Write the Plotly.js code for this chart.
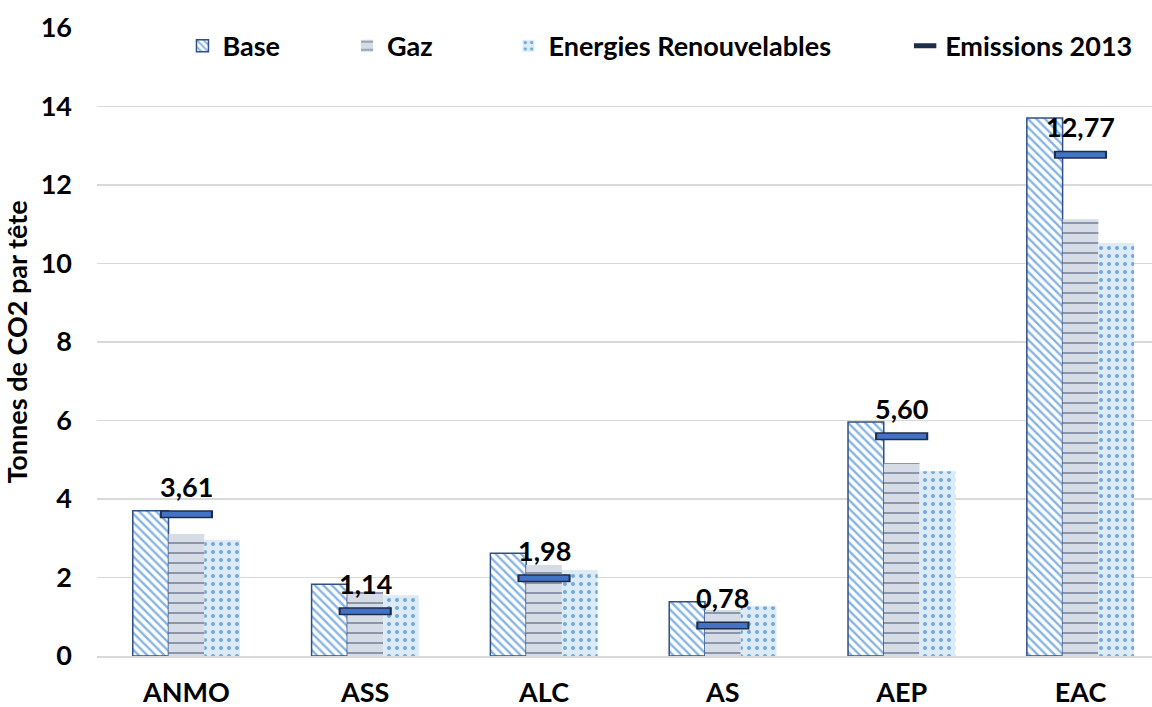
<!DOCTYPE html>
<html>
<head>
<meta charset="utf-8">
<script src="https://cdn.plot.ly/plotly-3.0.1.min.js"></script>
<style>html,body{margin:0;padding:0;background:#fff;}#chart{width:1152px;height:707px;}</style>
</head>
<body>
<div id="chart"></div>
<script>
var categories = ["ANMO", "ASS", "ALC", "AS", "AEP", "EAC"];
var baseValues = [3.70, 1.83, 2.62, 1.38, 5.96, 13.71];
var gazValues = [3.11, 1.64, 2.32, 1.17, 4.92, 11.13];
var renouvValues = [2.96, 1.55, 2.19, 1.27, 4.71, 10.52];
var emissions2013 = [3.61, 1.14, 1.98, 0.78, 5.60, 12.77];
var yTicks = [0, 2, 4, 6, 8, 10, 12, 14, 16];

var FONT = "'Liberation Sans Narrow', 'Arial Narrow', Lato, sans-serif";
var FS = 27;

function fmt(v) { return v.toFixed(2).replace('.', ','); }

var traces = [
  {
    type: 'bar', name: 'Base', x: categories, y: baseValues, legend: 'legend',
    marker: {
      color: '#ffffff',
      line: {color: '#2f4f86', width: 1.5},
      pattern: {shape: '\\', fgcolor: '#86b4e3', bgcolor: '#ffffff', size: 6, solidity: 0.4}
    }
  },
  {
    type: 'bar', name: 'Gaz', x: categories, y: gazValues, legend: 'legend2',
    marker: {
      color: '#d6dce5',
      line: {width: 0},
      pattern: {shape: '-', fgcolor: '#6b7890', bgcolor: '#d6dce5', size: 10, solidity: 0.14}
    }
  },
  {
    type: 'bar', name: 'Energies Renouvelables', x: categories, y: renouvValues, legend: 'legend3',
    marker: {
      color: '#ddebf7',
      line: {width: 0},
      pattern: {shape: '.', fgcolor: '#6fa8dc', bgcolor: '#ddebf7', size: 8, solidity: 0.2}
    }
  },
  {
    type: 'scatter', mode: 'markers', name: 'Emissions 2013', x: categories, y: emissions2013,
    legend: 'legend4',
    marker: {symbol: 'line-ew', size: 38, color: '#1f2d4d', line: {color: '#1f2d4d', width: 8}}
  },
  {
    type: 'scatter', mode: 'markers', name: 'Emissions 2013 fill', x: categories, y: emissions2013,
    showlegend: false,
    marker: {symbol: 'line-ew', size: 35, color: '#4472c4', line: {color: '#4472c4', width: 5}}
  }
];

var annotations = categories.map(function (c, i) {
  return {
    x: c, y: emissions2013[i], xref: 'x', yref: 'y', text: fmt(emissions2013[i]),
    showarrow: false, yshift: 28,
    font: {family: FONT, size: FS, color: '#000000', weight: 'bold'}
  };
});

function leg(x) {
  return {
    orientation: 'h', x: x, y: 0.971, xref: 'paper', yref: 'paper',
    xanchor: 'left', yanchor: 'middle', bgcolor: 'rgba(0,0,0,0)',
    font: {family: FONT, size: FS, color: '#000000', weight: 'bold'}
  };
}

var layout = {
  width: 1152, height: 707,
  margin: {l: 97, r: 0, t: 28, b: 51},
  paper_bgcolor: '#ffffff', plot_bgcolor: '#ffffff',
  barmode: 'group', bargap: 0.40, bargroupgap: 0,
  showlegend: true,
  legend: leg(0.081),
  legend2: leg(0.237),
  legend3: leg(0.390),
  legend4: leg(0.766),
  xaxis: {
    type: 'category', range: [-0.5, 5.4],
    showgrid: false, showline: true, linecolor: '#d9d9d9', linewidth: 2,
    ticks: '', ticklabelstandoff: 12,
    tickfont: {family: FONT, size: FS, color: '#000000', weight: 'bold'}
  },
  yaxis: {
    range: [0, 16], tickvals: yTicks, ticktext: yTicks.map(String),
    showgrid: true, gridcolor: '#d9d9d9', gridwidth: 1.5,
    zeroline: false, showline: false, ticks: '', ticklabelstandoff: 24,
    tickfont: {family: FONT, size: FS, color: '#000000', weight: 'bold'},
    title: {text: 'Tonnes de CO2 par tête', standoff: 14,
      font: {family: FONT, size: FS, color: '#000000', weight: 'bold'}}
  },
  annotations: annotations
};

Plotly.newPlot('chart', traces, layout, {displayModeBar: false, staticPlot: true});
</script>
</body>
</html>
